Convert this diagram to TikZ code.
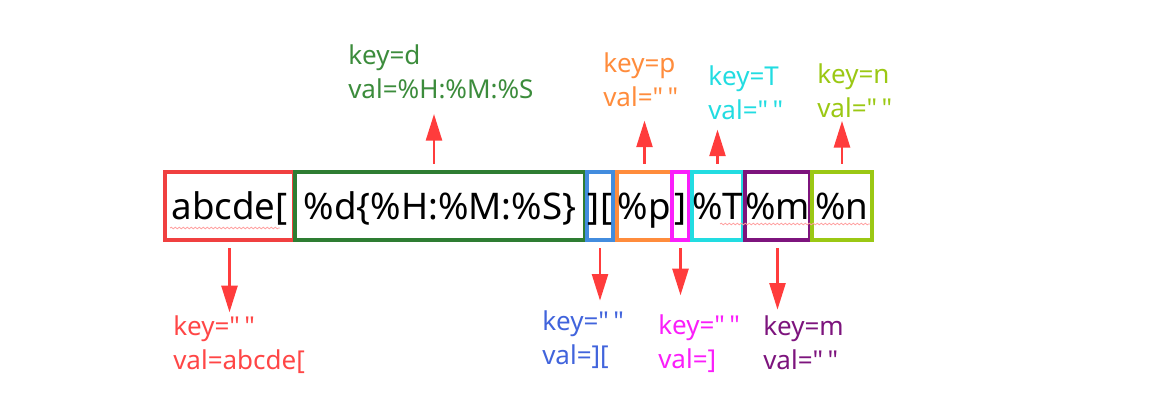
\documentclass[tikz,border=0pt]{standalone}
\usepackage{fontspec}
\setmainfont{Noto Sans}[Ligatures=TeXOff]
\usetikzlibrary{arrows.meta,decorations.pathmorphing}
\definecolor{boxred}{RGB}{240, 64, 64}
\definecolor{lblred}{RGB}{255, 70, 70}
\definecolor{boxgreen}{RGB}{46, 125, 50}
\definecolor{lblgreen}{RGB}{60, 140, 60}
\definecolor{boxblue}{RGB}{66, 140, 222}
\definecolor{lblblue}{RGB}{65, 100, 220}
\definecolor{boxorange}{RGB}{255, 140, 60}
\definecolor{boxmagenta}{RGB}{250, 30, 250}
\definecolor{boxcyan}{RGB}{34, 220, 225}
\definecolor{boxpurple}{RGB}{125, 20, 125}
\definecolor{boxlime}{RGB}{155, 200, 20}
\definecolor{arrowred}{RGB}{255, 60, 60}
\definecolor{squig}{RGB}{255, 160, 160}
\newcommand\pxu{0.75pt}
\newcommand\qq{"\,"}

\begin{document}
\begin{tikzpicture}[x=0.75pt,y=-0.75pt,
    seg/.style={line width=2.4pt, inner xsep=0pt, minimum height=68*\pxu,
                text height=23pt, text depth=3pt, font=\fontsize{27.5}{32}\selectfont},
    lbl/.style={anchor=north west, inner sep=0pt, align=left, font=\fontsize{19.5}{26}\selectfont},
    pointer/.style={draw=arrowred, line width=1.9pt, -{Triangle[width=12pt,length=20pt]}, shorten <=5pt},
    squiggle/.style={draw=squig, line width=0.6pt, decorate, decoration={snake,amplitude=0.6pt,segment length=3pt}}]
    \useasboundingbox (0,0) rectangle (1171,412);
    % the format string, one box per token
    \node[seg, draw=boxred,     minimum width=129*\pxu] (abc)  at (229.5,206) {abcde[};
    \node[seg, draw=boxgreen,   minimum width=290*\pxu] (dhms) at (440.0,206) {\%d\{\%H:\%M:\%S\}};
    \node[seg, draw=boxblue,    minimum width=26*\pxu]  (brk)  at (600.0,206) {][};
    \node[seg, draw=boxorange,  minimum width=55*\pxu]  (pp)   at (644.5,206) {\%p};
    \node[seg, draw=boxmagenta, minimum width=17*\pxu]  (rb)   at (680.5,206) {]};
    \node[seg, draw=boxcyan,    minimum width=49*\pxu]  (tt)   at (717.5,206) {\%T};
    \node[seg, draw=boxpurple,  minimum width=65*\pxu]  (mm)   at (777.5,206) {\%m};
    \node[seg, draw=boxlime,    minimum width=60*\pxu]  (nn)   at (842.0,206) {\%n};
    \draw[squiggle] (170,228) -- (280,228);
    \draw[squiggle] (720,224) -- (870,224);
    % key/val labels
    \node[lbl, text=lblred]     (kabc) at (173,315) {key=\qq\\val=abcde[};
    \node[lbl, text=lblgreen]   (kd)   at (348,44)  {key=d\\val=\%H:\%M:\%S};
    \node[lbl, text=lblblue]    (kbrk) at (542,310) {key=\qq\\val=][};
    \node[lbl, text=boxorange]  (kp)   at (603,52)  {key=p\\val=\qq};
    \node[lbl, text=boxmagenta] (krb)  at (658,314) {key=\qq\\val=]};
    \node[lbl, text=boxcyan]    (kt)   at (708,65)  {key=T\\val=\qq};
    \node[lbl, text=boxpurple]  (km)   at (763,315) {key=m\\val=\qq};
    \node[lbl, text=boxlime]    (kn)   at (817,63)  {key=n\\val=\qq};
    % pointers
    \draw[pointer, shorten >=2pt]  (abc.south)  -- (abc.south |- kabc.north);
    \draw[pointer, shorten >=7pt]  (brk.south)  -- (brk.south |- kbrk.north);
    \draw[pointer, shorten >=14pt] (rb.south)   -- (rb.south |- krb.north);
    \draw[pointer, shorten >=4pt]  (mm.south)   -- (mm.south |- km.north);
    \draw[pointer, shorten >=11pt] ([xshift=-4.5pt]dhms.north) -- ([xshift=-4.5pt]dhms.north |- kd.south);
    \draw[pointer, shorten >=10pt] (pp.north)   -- (pp.north |- kp.south);
    \draw[pointer, shorten >=7pt]  (tt.north)   -- (tt.north |- kt.south);
    \draw[pointer, shorten >=2pt]  (nn.north)   -- (nn.north |- kn.south);
\end{tikzpicture}
\end{document}
